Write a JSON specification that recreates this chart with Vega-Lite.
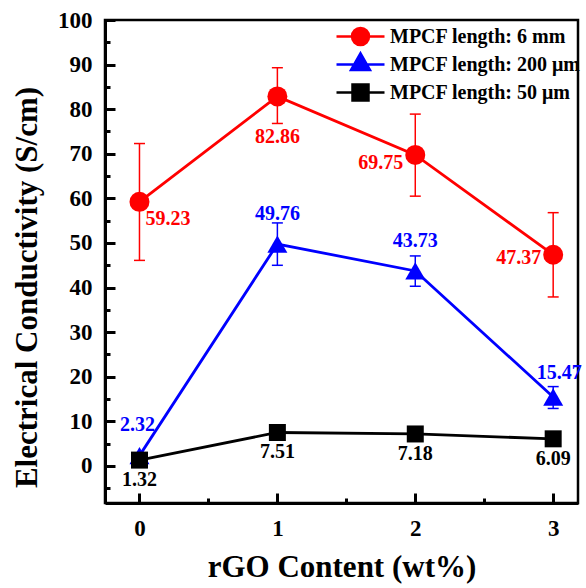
{
  "$schema": "https://vega.github.io/schema/vega-lite/v6.json",
  "width": 473,
  "height": 483,
  "autosize": "none",
  "padding": {"left": 105, "top": 20, "right": 8, "bottom": 85},
  "background": "white",
  "config": {
    "font": "Liberation Serif",
    "view": {"stroke": "black", "strokeWidth": 2.5},
    "text": {"font": "Liberation Serif", "fontWeight": "bold", "fontSize": 20},
    "legend": {"labelFont": "Liberation Serif", "labelFontWeight": "bold", "labelFontSize": 20, "labelColor": "black"}
  },
  "data": {
    "values": [
      {"series": "MPCF length: 6 mm", "x": 0, "y": 59.23, "lo": 46.1, "hi": 72.3},
      {"series": "MPCF length: 6 mm", "x": 1, "y": 82.86, "lo": 76.8, "hi": 89.3},
      {"series": "MPCF length: 6 mm", "x": 2, "y": 69.75, "lo": 60.5, "hi": 78.9},
      {"series": "MPCF length: 6 mm", "x": 3, "y": 47.37, "lo": 37.9, "hi": 56.8},
      {"series": "MPCF length: 200 μm", "x": 0, "y": 2.32, "lo": 1.9, "hi": 2.8},
      {"series": "MPCF length: 200 μm", "x": 1, "y": 49.76, "lo": 45.0, "hi": 54.5},
      {"series": "MPCF length: 200 μm", "x": 2, "y": 43.73, "lo": 40.3, "hi": 47.1},
      {"series": "MPCF length: 200 μm", "x": 3, "y": 15.47, "lo": 12.9, "hi": 17.8},
      {"series": "MPCF length: 50 μm", "x": 0, "y": 1.32, "lo": null, "hi": null},
      {"series": "MPCF length: 50 μm", "x": 1, "y": 7.51, "lo": null, "hi": null},
      {"series": "MPCF length: 50 μm", "x": 2, "y": 7.18, "lo": null, "hi": null},
      {"series": "MPCF length: 50 μm", "x": 3, "y": 6.09, "lo": null, "hi": null}
    ]
  },
  "resolve": {"axis": {"x": "independent", "y": "independent"}},
  "layer": [
    {
      "mark": {"type": "line", "strokeWidth": 2.8},
      "encoding": {
        "x": {"field": "x", "type": "quantitative", "scale": {"domain": [-0.25, 3.18], "nice": false, "zero": false},
          "axis": {"orient": "bottom", "values": [0, 1, 2, 3], "format": "d", "grid": false, "domainWidth": 3, "domainColor": "black", "tickWidth": 3, "tickColor": "black", "tickSize": -10, "labelPadding": 24, "labelFont": "Liberation Serif", "labelFontWeight": "bold", "labelFontSize": 23, "labelColor": "black",
            "title": "rGO Content (wt%)", "titleFont": "Liberation Serif", "titleFontWeight": "bold", "titleFontSize": 31, "titleColor": "black", "titleBaseline": "alphabetic", "titleY": 73}},
        "y": {"field": "y", "type": "quantitative", "scale": {"domain": [-8.3, 100], "nice": false, "zero": false},
          "axis": {"orient": "left", "values": [0, 10, 20, 30, 40, 50, 60, 70, 80, 90, 100], "grid": false, "domainWidth": 3, "domainColor": "black", "tickWidth": 3, "tickColor": "black", "tickSize": -10, "labelPadding": 23, "labelFont": "Liberation Serif", "labelFontWeight": "bold", "labelFontSize": 23, "labelColor": "black",
            "title": "Electrical Conductivity (S/cm)", "titleFont": "Liberation Serif", "titleFontWeight": "bold", "titleFontSize": 31, "titleColor": "black", "titleX": -78, "titleY": 267, "titleBaseline": "middle", "titleAlign": "center"}},
        "color": {"field": "series", "type": "nominal", "scale": {"domain": ["MPCF length: 50 μm", "MPCF length: 200 μm", "MPCF length: 6 mm"], "range": ["#000000", "#0000FF", "#FF0000"]}, "legend": null}
      }
    },
    {
      "mark": {"type": "rule", "strokeWidth": 1.5},
      "encoding": {
        "x": {"field": "x", "type": "quantitative", "axis": {"orient": "bottom", "values": [0.5, 1.5, 2.5], "labels": false, "domain": false, "grid": false, "title": null, "tickWidth": 3, "tickColor": "black", "tickSize": -5}},
        "y": {"field": "lo", "type": "quantitative", "axis": {"orient": "left", "values": [-5, 5, 15, 25, 35, 45, 55, 65, 75, 85, 95], "labels": false, "domain": false, "grid": false, "title": null, "tickWidth": 3, "tickColor": "black", "tickSize": -5}},
        "y2": {"field": "hi"},
        "color": {"field": "series", "type": "nominal", "legend": null}
      }
    },
    {
      "mark": {"type": "tick", "orient": "horizontal", "size": 11, "thickness": 1.5, "opacity": 1},
      "encoding": {
        "x": {"field": "x", "type": "quantitative", "axis": null},
        "y": {"field": "lo", "type": "quantitative", "axis": null},
        "color": {"field": "series", "type": "nominal", "legend": null}
      }
    },
    {
      "mark": {"type": "tick", "orient": "horizontal", "size": 11, "thickness": 1.5, "opacity": 1},
      "encoding": {
        "x": {"field": "x", "type": "quantitative", "axis": null},
        "y": {"field": "hi", "type": "quantitative", "axis": null},
        "color": {"field": "series", "type": "nominal", "legend": null}
      }
    },
    {
      "transform": [{"filter": "datum.series == 'MPCF length: 6 mm'"}],
      "mark": {"type": "point", "shape": "circle", "filled": true, "size": 400, "opacity": 1},
      "encoding": {
        "x": {"field": "x", "type": "quantitative", "axis": null},
        "y": {"field": "y", "type": "quantitative", "axis": null},
        "color": {"field": "series", "type": "nominal", "legend": null}
      }
    },
    {
      "transform": [{"filter": "datum.series == 'MPCF length: 200 μm'"}],
      "mark": {"type": "point", "shape": "triangle-up", "filled": true, "size": 400, "opacity": 1},
      "encoding": {
        "x": {"field": "x", "type": "quantitative", "axis": null},
        "y": {"field": "y", "type": "quantitative", "axis": null},
        "color": {"field": "series", "type": "nominal", "legend": null}
      }
    },
    {
      "transform": [{"filter": "datum.series == 'MPCF length: 50 μm'"}],
      "mark": {"type": "point", "shape": "square", "filled": true, "size": 289, "opacity": 1},
      "encoding": {
        "x": {"field": "x", "type": "quantitative", "axis": null},
        "y": {"field": "y", "type": "quantitative", "axis": null},
        "color": {"field": "series", "type": "nominal", "legend": null}
      }
    },
    {
      "transform": [{"filter": "datum.series == 'MPCF length: 6 mm' && datum.x == 0"}],
      "mark": {"type": "text", "align": "left", "baseline": "middle", "dx": 6, "dy": 17, "color": "#FF0000"},
      "encoding": {
        "x": {"field": "x", "type": "quantitative", "axis": null},
        "y": {"field": "y", "type": "quantitative", "axis": null},
        "text": {"field": "y", "type": "quantitative", "format": ".2f"}
      }
    },
    {
      "transform": [{"filter": "datum.series == 'MPCF length: 6 mm' && datum.x == 1"}],
      "mark": {"type": "text", "align": "center", "baseline": "middle", "dx": 0, "dy": 41, "color": "#FF0000"},
      "encoding": {
        "x": {"field": "x", "type": "quantitative", "axis": null},
        "y": {"field": "y", "type": "quantitative", "axis": null},
        "text": {"field": "y", "type": "quantitative", "format": ".2f"}
      }
    },
    {
      "transform": [{"filter": "datum.series == 'MPCF length: 6 mm' && datum.x == 2"}],
      "mark": {"type": "text", "align": "right", "baseline": "middle", "dx": -12, "dy": 8, "color": "#FF0000"},
      "encoding": {
        "x": {"field": "x", "type": "quantitative", "axis": null},
        "y": {"field": "y", "type": "quantitative", "axis": null},
        "text": {"field": "y", "type": "quantitative", "format": ".2f"}
      }
    },
    {
      "transform": [{"filter": "datum.series == 'MPCF length: 6 mm' && datum.x == 3"}],
      "mark": {"type": "text", "align": "right", "baseline": "middle", "dx": -12, "dy": 3, "color": "#FF0000"},
      "encoding": {
        "x": {"field": "x", "type": "quantitative", "axis": null},
        "y": {"field": "y", "type": "quantitative", "axis": null},
        "text": {"field": "y", "type": "quantitative", "format": ".2f"}
      }
    },
    {
      "transform": [{"filter": "datum.series == 'MPCF length: 200 μm' && datum.x == 0"}],
      "mark": {"type": "text", "align": "center", "baseline": "middle", "dx": -2, "dy": -31, "color": "#0000FF"},
      "encoding": {
        "x": {"field": "x", "type": "quantitative", "axis": null},
        "y": {"field": "y", "type": "quantitative", "axis": null},
        "text": {"field": "y", "type": "quantitative", "format": ".2f"}
      }
    },
    {
      "transform": [{"filter": "datum.series == 'MPCF length: 200 μm' && (datum.x == 1 || datum.x == 2)"}],
      "mark": {"type": "text", "align": "center", "baseline": "middle", "dx": 0, "dy": -30, "color": "#0000FF"},
      "encoding": {
        "x": {"field": "x", "type": "quantitative", "axis": null},
        "y": {"field": "y", "type": "quantitative", "axis": null},
        "text": {"field": "y", "type": "quantitative", "format": ".2f"}
      }
    },
    {
      "transform": [{"filter": "datum.series == 'MPCF length: 200 μm' && datum.x == 3"}],
      "mark": {"type": "text", "align": "center", "baseline": "middle", "dx": 6, "dy": -24, "color": "#0000FF"},
      "encoding": {
        "x": {"field": "x", "type": "quantitative", "axis": null},
        "y": {"field": "y", "type": "quantitative", "axis": null},
        "text": {"field": "y", "type": "quantitative", "format": ".2f"}
      }
    },
    {
      "transform": [{"filter": "datum.series == 'MPCF length: 50 μm'"}],
      "mark": {"type": "text", "align": "center", "baseline": "middle", "dx": 0, "dy": 20, "color": "#000000"},
      "encoding": {
        "x": {"field": "x", "type": "quantitative", "axis": null},
        "y": {"field": "y", "type": "quantitative", "axis": null},
        "text": {"field": "y", "type": "quantitative", "format": ".2f"}
      }
    },
    {
      "transform": [{"filter": "false"}],
      "mark": {"type": "point", "filled": true, "opacity": 1, "strokeWidth": 2.5, "size": 400},
      "encoding": {
        "x": {"field": "x", "type": "quantitative", "axis": null},
        "y": {"field": "y", "type": "quantitative", "axis": null},
        "shape": {"field": "series", "type": "nominal", "scale": {"domain": ["MPCF length: 6 mm", "MPCF length: 200 μm", "MPCF length: 50 μm"], "range": [
          "M0,-1.125M0,1.125M-2.4,0H-0.85A0.85,0.85 0 1,1 0.85,0A0.85,0.85 0 1,1 -0.85,0M0.85,0H2.4",
          "M0,-1.125M0,1.125M-2.4,0H2.4M0,-1.125L0.95,0.55H-0.95Z",
          "M0,-1.125M0,1.125M-2.4,0H2.4M-0.8,-0.8H0.8V0.8H-0.8Z"
        ]},
          "legend": {"orient": "none", "legendX": 244, "legendY": 5, "title": null, "padding": 0, "symbolSize": 400, "symbolStrokeWidth": 2.5, "symbolOpacity": 1, "labelOffset": 18, "rowPadding": -9, "labelLimit": 400}},
        "fill": {"field": "series", "type": "nominal", "scale": {"domain": ["MPCF length: 6 mm", "MPCF length: 200 μm", "MPCF length: 50 μm"], "range": ["#FF0000", "#0000FF", "#000000"]},
          "legend": {"orient": "none", "legendX": 244, "legendY": 5, "title": null, "padding": 0, "symbolSize": 400, "symbolStrokeWidth": 2.5, "symbolOpacity": 1, "labelOffset": 18, "rowPadding": -9, "labelLimit": 400}},
        "stroke": {"field": "series", "type": "nominal", "scale": {"domain": ["MPCF length: 6 mm", "MPCF length: 200 μm", "MPCF length: 50 μm"], "range": ["#FF0000", "#0000FF", "#000000"]},
          "legend": {"orient": "none", "legendX": 244, "legendY": 5, "title": null, "padding": 0, "symbolSize": 400, "symbolStrokeWidth": 2.5, "symbolOpacity": 1, "labelOffset": 18, "rowPadding": -9, "labelLimit": 400}}
      }
    }
  ]
}
